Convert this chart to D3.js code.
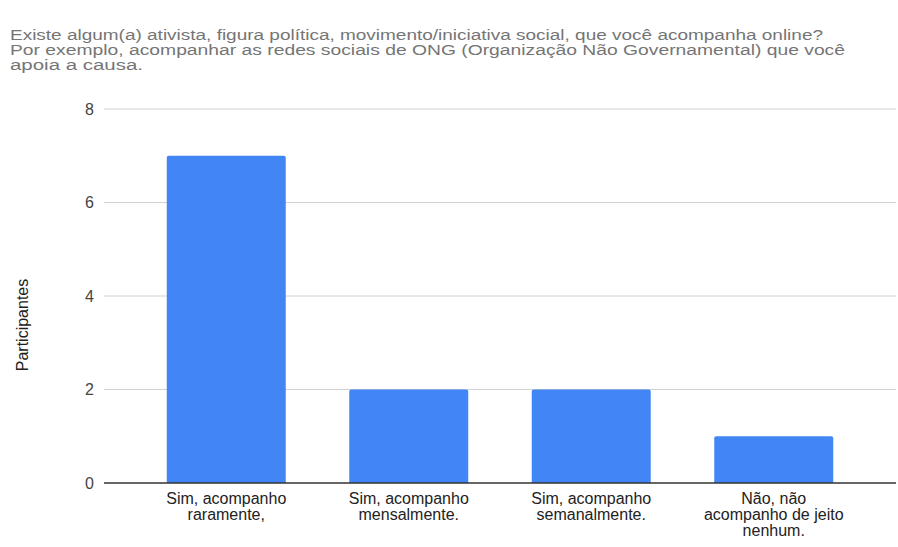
<!DOCTYPE html>
<html>
<head>
<meta charset="utf-8">
<script src="https://cdn.jsdelivr.net/npm/d3@7"></script>
<style>
  body { margin: 0; background: #fff; }
  text { font-family: "Liberation Sans", Arial, sans-serif; }
</style>
</head>
<body>
<svg id="chart" width="898" height="547"></svg>
<script>
var titleLines = [
  'Existe algum(a) ativista, figura política, movimento/iniciativa social, que você acompanha online?',
  'Por exemplo, acompanhar as redes sociais de ONG (Organização Não Governamental) que você',
  'apoia a causa.'
]
var categories = ['Sim, acompanho raramente,', 'Sim, acompanho mensalmente.',
  'Sim, acompanho semanalmente.', 'Não, não acompanho de jeito nenhum.']
var categoryLines = [
  ['Sim, acompanho', 'raramente,'],
  ['Sim, acompanho', 'mensalmente.'],
  ['Sim, acompanho', 'semanalmente.'],
  ['Não, não', 'acompanho de jeito', 'nenhum.']
]
var participantes = [7, 2, 2, 1]
var yTicks = [0, 2, 4, 6, 8]

const blue = '#4285f4'
var svg = d3.select('#chart')

// title, stretched to the width seen in the picture
var titleWidths = [813, 835, 133]
svg.selectAll('text.title')
  .data(titleLines)
  .enter()
  .append('text')
  .attr('class', 'title')
  .attr('x', 10)
  .attr('y', (d, i) => 40 + i * 15)
  .attr('textLength', (d, i) => titleWidths[i])
  .attr('lengthAdjust', 'spacingAndGlyphs')
  .style('font-size', '14px')
  .style('fill', '#757575')
  .text(d => d)

var xScale = d3.scaleBand()
  .domain(categories)
  .range([104, 896])
  .paddingInner(0.348)
  .paddingOuter(0.344)
var yScale = d3.scaleLinear().domain([0, 8]).range([483, 109])

// gridlines
svg.selectAll('line.grid')
  .data(yTicks.filter(d => d > 0))
  .enter()
  .append('line')
  .attr('class', 'grid')
  .attr('x1', 104).attr('x2', 896)
  .attr('y1', d => yScale(d)).attr('y2', d => yScale(d))
  .style('stroke', '#d0d0d0')
  .style('stroke-width', 1)

var yAxis = d3.axisLeft(yScale).tickValues(yTicks).tickSize(0).tickPadding(0)
var yG = svg.append('g').attr('transform', 'translate(94,0)').call(yAxis)
yG.select('.domain').remove()
yG.selectAll('text')
  .style('font-size', '16px')
  .style('fill', '#444')
  .style('font-family', 'Liberation Sans, Arial, sans-serif')

// bars
svg.selectAll('path.bar')
  .data(participantes)
  .enter()
  .append('path')
  .attr('class', 'bar')
  .attr('d', (d, i) => {
    var x = xScale(categories[i]), w = xScale.bandwidth()
    var y = yScale(d), h = yScale(0) - y, r = 2
    return 'M' + x + ',' + (y + h) + 'V' + (y + r) + 'Q' + x + ',' + y + ' ' + (x + r) + ',' + y +
      'H' + (x + w - r) + 'Q' + (x + w) + ',' + y + ' ' + (x + w) + ',' + (y + r) + 'V' + (y + h) + 'Z'
  })
  .style('fill', blue)

// baseline
svg.append('line')
  .attr('x1', 104).attr('x2', 896)
  .attr('y1', yScale(0)).attr('y2', yScale(0))
  .style('stroke', '#333')
  .style('stroke-width', 1.5)

// category labels
var labelG = svg.selectAll('text.cat')
  .data(categoryLines)
  .enter()
  .append('text')
  .attr('class', 'cat')
  .attr('text-anchor', 'middle')
  .style('font-size', '16px')
  .style('fill', '#222')
labelG.selectAll('tspan')
  .data((d, i) => d.map(t => ({ t: t, i: i })))
  .enter()
  .append('tspan')
  .attr('x', d => xScale(categories[d.i]) + xScale.bandwidth() / 2)
  .attr('y', (d, j) => 504 + j * 16)
  .text(d => d.t)

// y title
svg.append('text')
  .attr('transform', 'translate(28,' + 325 + ') rotate(-90)')
  .attr('text-anchor', 'middle')
  .style('font-size', '16px')
  .style('fill', '#222')
  .text('Participantes')
</script>
</body>
</html>
